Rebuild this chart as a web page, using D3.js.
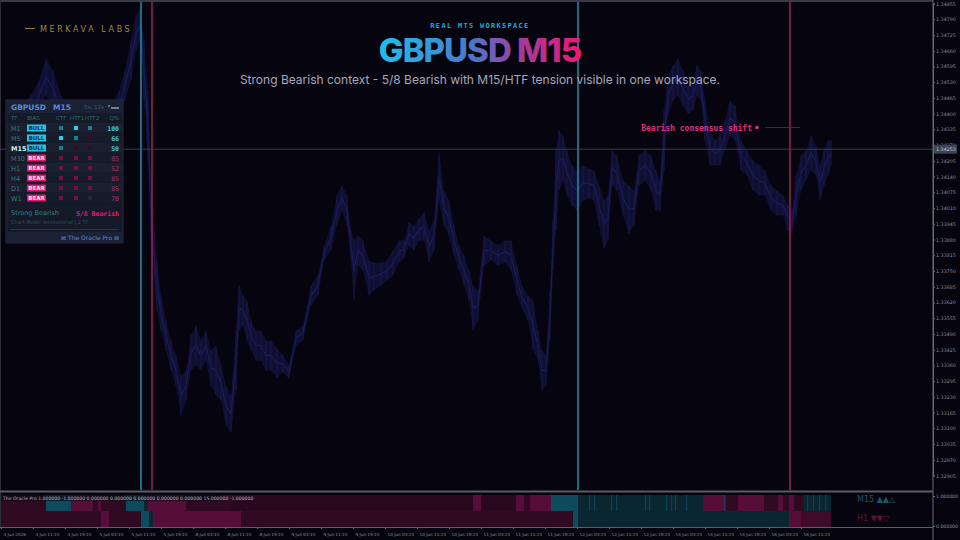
<!DOCTYPE html>
<html>
<head>
<meta charset="utf-8">
<script src="https://cdn.jsdelivr.net/npm/d3@7"></script>
<style>
  html, body { margin: 0; padding: 0; background: #06050f; }
  svg { display: block; }
</style>
</head>
<body>
<div id="wrapper"></div>
<script>
// price readings: bar index (M15 bars from left edge), high, low
const barIdx = [8,20,30,38,45,52,60,70,80,90,100,110,118,124,130,135,139,143,147,150,153,156,160,165,170,175,180,185,190,195,200,205,210,215,220,225,230,235,238,242,246,250,255,260,265,270,276,282,288,295,302,310,317,323,330,336,341,346,350,353,357,362,368,373,380,386,392,398,403,408,413,418,423,428,433,438,443,448,453,458,463,468,472,477,483,490,497,504,510,516,521,527,532,537,541,545,549,552,555,558,562,566,571,576,582,588,593,598,603,607,611,616,622,628,633,638,644,650,655,659,663,667,672,677,682,687,692,696,700,704,709,714,719,724,729,734,740,746,752,758,764,770,776,782,787,791,795,800,805,810,815,819,823,827,830]
const highs = [1.34371,1.34413,1.34475,1.34537,1.34628,1.34578,1.34475,1.34413,1.34371,1.34330,1.34371,1.34433,1.34495,1.34578,1.34702,1.34805,1.34826,1.34702,1.34495,1.34124,1.33917,1.33793,1.33649,1.33545,1.33463,1.33401,1.33318,1.33339,1.33484,1.33525,1.33463,1.33504,1.33422,1.33442,1.33360,1.33277,1.33236,1.33504,1.33690,1.33649,1.33628,1.33545,1.33504,1.33504,1.33463,1.33463,1.33430,1.33401,1.33360,1.33504,1.33525,1.33690,1.33731,1.33855,1.33938,1.34062,1.34103,1.34062,1.33917,1.33876,1.33897,1.33876,1.33793,1.33785,1.33785,1.33793,1.33835,1.33876,1.33876,1.33950,1.33938,1.33967,1.33992,1.33917,1.33958,1.34239,1.34082,1.34041,1.33938,1.33855,1.33814,1.33752,1.33690,1.33669,1.33897,1.33876,1.33855,1.33876,1.33876,1.33773,1.33690,1.33649,1.33628,1.33504,1.33422,1.33401,1.33669,1.33958,1.34248,1.34330,1.34310,1.34248,1.34186,1.34165,1.34186,1.34173,1.34165,1.34103,1.34041,1.34062,1.34248,1.34227,1.34124,1.34103,1.34082,1.34227,1.34248,1.34227,1.34165,1.34124,1.34413,1.34557,1.34599,1.34628,1.34578,1.34516,1.34537,1.34599,1.34578,1.34454,1.34330,1.34289,1.34310,1.34371,1.34454,1.34433,1.34289,1.34248,1.34206,1.34186,1.34165,1.34103,1.34082,1.34062,1.34020,1.34000,1.34144,1.34227,1.34248,1.34310,1.34268,1.34186,1.34248,1.34289,1.34289]
const lows = [1.34206,1.34248,1.34330,1.34413,1.34475,1.34433,1.34330,1.34248,1.34206,1.34165,1.34206,1.34289,1.34371,1.34454,1.34537,1.34661,1.34702,1.34454,1.34206,1.33876,1.33711,1.33587,1.33504,1.33422,1.33339,1.33277,1.33153,1.33215,1.33339,1.33360,1.33339,1.33380,1.33277,1.33236,1.33215,1.33112,1.33083,1.33256,1.33504,1.33525,1.33463,1.33422,1.33380,1.33380,1.33339,1.33339,1.33310,1.33331,1.33306,1.33442,1.33463,1.33607,1.33649,1.33793,1.33835,1.33938,1.34000,1.33938,1.33793,1.33628,1.33773,1.33752,1.33649,1.33669,1.33690,1.33711,1.33731,1.33785,1.33802,1.33855,1.33835,1.33876,1.33876,1.33785,1.33835,1.34041,1.33938,1.33897,1.33814,1.33752,1.33690,1.33628,1.33504,1.33545,1.33773,1.33793,1.33773,1.33785,1.33752,1.33649,1.33595,1.33545,1.33422,1.33380,1.33256,1.33277,1.33463,1.33752,1.33917,1.34082,1.34124,1.34062,1.34020,1.34000,1.34041,1.34049,1.34041,1.33938,1.33843,1.33876,1.34103,1.34082,1.33979,1.33905,1.33938,1.34103,1.34124,1.34082,1.34000,1.34000,1.34165,1.34392,1.34454,1.34475,1.34433,1.34400,1.34413,1.34475,1.34454,1.34289,1.34186,1.34186,1.34186,1.34248,1.34310,1.34289,1.34165,1.34144,1.34082,1.34062,1.34062,1.34000,1.33979,1.33979,1.33917,1.33905,1.33979,1.34082,1.34124,1.34165,1.34144,1.34041,1.34103,1.34144,1.34186]

const priceTicks = [1.34855,1.34790,1.34725,1.34660,1.34595,1.34530,1.34465,1.34400,1.34335,1.34270,1.34205,1.34140,1.34075,1.34010,1.33945,1.33880,1.33815,1.33750,1.33685,1.33620,1.33555,1.33490,1.33425,1.33360,1.33295,1.33230,1.33165,1.33100,1.33035,1.32970,1.32905]
const lastPrice = 1.34253

const timeTicks = [0,32,64,96,128,160,192,224,256,288,320,352,384,416,448,480,512,544,576,608,640,672,704,736,768,800]
const timeLabels = ["4 Jun 2026","4 Jun 11:15","4 Jun 19:15","5 Jun 03:15","5 Jun 11:15","5 Jun 19:15","8 Jun 03:15","8 Jun 11:15","8 Jun 19:15","9 Jun 03:15","9 Jun 11:15","9 Jun 19:15","10 Jun 03:15","10 Jun 11:15","10 Jun 19:15","11 Jun 03:15","11 Jun 11:15","11 Jun 19:15","12 Jun 03:15","12 Jun 11:15","12 Jun 19:15","15 Jun 03:15","15 Jun 11:15","15 Jun 19:15","16 Jun 03:15","16 Jun 11:15"]

// bias flip markers (bar index, side)
const flipBars = [140,151,577,789]
const flipSides = ["bull","bear","bull","bear"]

// Oracle sub-window states: [startBar, endBar, state]
const ctfStates = [[0,45,"bearDim"],[45,70,"bull"],[70,92,"bear"],[92,97,"bearDim"],[97,100,"bear"],[100,125,"bearDim"],[125,143,"bull"],[143,147,"bullDim"],[147,185,"bear"],[185,230,"bearDim"],[230,472,"bearDark"],[472,480,"bear"],[480,515,"bearDark"],[515,523,"bear"],[523,529,"bearDim"],[529,550,"bear"],[550,577,"bull"],[577,830,"bullDim"],[702,725,"bear"],[725,737,"bearDim"],[737,763,"bear"],[763,777,"bearDim"],[777,782,"bear"],[782,788,"bearDim"],[788,793,"bear"],[793,802,"bearDim"]]
const ctfStripes = [588,593,610,615,644,648,665,670,674,685,723,806,812,818,824]
const htfStates = [[0,100,"bearDim"],[100,108,"bear"],[108,140,"bearDim"],[140,148,"bull"],[148,152,"bullDim"],[152,240,"bear"],[240,572,"bearDim"],[572,577,"bull"],[577,788,"bullDim"],[788,800,"bear"],[800,830,"bearMid"]]

// dashboard table
const tfRows = ["M1","M5","M15","M30","H1","H4","D1","W1"]
const tfBias = ["BULL","BULL","BULL","BEAR","BEAR","BEAR","BEAR","BEAR"]
const tfQuality = [100,66,50,85,52,85,85,70]
const tfCtf = ["bull","hot","bull","bear","bear","bear","bear","bear"]
const tfHtf1 = ["hot","bull","weak","bear","bear","bear","bear","bear"]
const tfHtf2 = ["bull","weak","weak","bear","bear","bear","bear","none"]

const W = 960, H = 540
const plotRight = 933, mainBottom = 490, subTop = 493, subBottom = 527

const stateColor = {bear:"#560d37", bearDim:"#300a23", bearDark:"#2a081f", bearMid:"#3e0b2b", bull:"#0d4a5e", bullDim:"#0a2631"}
const squareColor = {bull:"#167f92", hot:"#22d2ea", weak:"#3c0a1f", bear:"#7a0f3c", none:"#262634"}

const svg = d3.select("#wrapper").append("svg").attr("width", W).attr("height", H)
svg.append("rect").attr("width", W).attr("height", H).attr("fill", "#06050f")

const x = d3.scaleLinear().domain([0, 932]).range([1, plotRight])
const y = d3.scaleLinear().domain([1.32905, 1.34855]).range([475.5, 3.5])

// frame
svg.append("line").attr("x1",0).attr("x2",plotRight).attr("y1",1).attr("y2",1).attr("stroke","#3a3a44").attr("stroke-width",2)
svg.append("line").attr("x1",0.5).attr("x2",0.5).attr("y1",0).attr("y2",subBottom).attr("stroke","#2e2e38")

// price cloud (faded candles)
const main = svg.append("g")
const pts = barIdx.map((b,i) => ({b:b, h:highs[i], l:lows[i]}))
main.append("path").datum(pts)
  .attr("d", d3.area().x(d => x(d.b)).y0(d => y(d.l)).y1(d => y(d.h)))
  .attr("fill", "#121238").attr("opacity", 0.85)
main.append("path").datum(pts)
  .attr("d", d3.line().x(d => x(d.b)).y(d => (y(d.h) + y(d.l)) / 2))
  .attr("fill","none").attr("stroke","#1d1d5c").attr("stroke-width",1.2)
main.selectAll("line.wick").data(pts).enter().append("line")
  .attr("x1", d => x(d.b)).attr("x2", d => x(d.b))
  .attr("y1", d => y(d.h)).attr("y2", d => y(d.l))
  .attr("stroke","#18184a").attr("stroke-width",1)

// current price line
svg.append("line").attr("x1",0).attr("x2",plotRight).attr("y1",y(lastPrice)).attr("y2",y(lastPrice))
  .attr("stroke","#4a4a58").attr("stroke-width",0.8)

// flip markers
svg.selectAll("line.flip").data(flipBars).enter().append("line")
  .attr("x1", d => x(d)).attr("x2", d => x(d)).attr("y1", 2).attr("y2", mainBottom)
  .attr("stroke", (d,i) => flipSides[i] == "bull" ? "#1a8aa6" : "#9a1e4c")
  .attr("stroke-width", 1.6)

// price axis
const yAxis = svg.append("g").attr("transform", `translate(${plotRight},0)`)
  .call(d3.axisRight(y).tickValues(priceTicks).tickFormat(d3.format(".5f")).tickSize(2))
yAxis.select(".domain").attr("stroke","#6a6a74")
yAxis.selectAll(".tick line").attr("stroke","#6a6a74")
yAxis.selectAll(".tick text").attr("fill","#8a8a96").attr("font-size","4.8px").attr("font-family","DejaVu Sans").attr("x",3)
svg.append("line").attr("x1",plotRight).attr("x2",plotRight).attr("y1",0).attr("y2",H).attr("stroke","#6a6a74")
const lp = svg.append("g").attr("transform", `translate(${plotRight+1},${y(lastPrice)})`)
lp.append("rect").attr("x",0).attr("y",-4.5).attr("width",23).attr("height",9).attr("fill","#3c4454")
lp.append("text").attr("x",2).attr("y",2).text(d3.format(".5f")(lastPrice))
  .attr("fill","#c8ccd6").attr("font-size","4.8px").attr("font-family","DejaVu Sans")

// sub-window
svg.append("line").attr("x1",0).attr("x2",plotRight).attr("y1",491.5).attr("y2",491.5).attr("stroke","#5c5c66").attr("stroke-width",2)
const sy = d3.scaleLinear().domain([0,1]).range([526, 496])
const sub = svg.append("g")
sub.selectAll("rect.ctf").data(ctfStates).enter().append("rect")
  .attr("x", d => x(d[0])).attr("width", d => x(d[1]) - x(d[0]))
  .attr("y", sy(1) - 1).attr("height", sy(0.5) - sy(1) + 1)
  .attr("fill", d => stateColor[d[2]])
sub.selectAll("rect.stripe").data(ctfStripes).enter().append("rect")
  .attr("x", d => x(d)).attr("width", 1.2)
  .attr("y", sy(1) - 1).attr("height", sy(0.5) - sy(1) + 1)
  .attr("fill", "#0f4152")
sub.selectAll("rect.htf").data(htfStates).enter().append("rect")
  .attr("x", d => x(d[0])).attr("width", d => x(d[1]) - x(d[0]))
  .attr("y", sy(0.5)).attr("height", sy(0) - sy(0.5) + 1)
  .attr("fill", d => stateColor[d[2]])
sub.append("rect").attr("x",2).attr("y",494).attr("width",220).attr("height",7).attr("fill","#0a0912").attr("opacity",0.7)
sub.append("text").attr("x",3).attr("y",499.5)
  .text("The Oracle Pro 1.000000 -1.000000 0.000000 0.000000 0.000000 0.000000 0.000000 15.000000 -1.000000")
  .attr("fill","#b8b8c4").attr("font-size","4.6px").attr("font-family","DejaVu Sans")
sub.append("text").attr("x",857).attr("y",502).text("M15 ▲▲△")
  .attr("fill","#1d5664").attr("font-size","8px").attr("font-family","DejaVu Sans")
sub.append("text").attr("x",857).attr("y",521).text("H1 ▼▼▽")
  .attr("fill","#5a1532").attr("font-size","8px").attr("font-family","DejaVu Sans")
const subAxis = svg.append("g").attr("transform", `translate(${plotRight},0)`)
  .call(d3.axisRight(sy).tickValues([1,0]).tickFormat(d3.format(".6f")).tickSize(2))
subAxis.select(".domain").remove()
subAxis.selectAll(".tick line").attr("stroke","#6a6a74")
subAxis.selectAll(".tick text").attr("fill","#8a8a96").attr("font-size","4.6px").attr("font-family","DejaVu Sans").attr("x",3)
svg.append("line").attr("x1",0).attr("x2",plotRight).attr("y1",subBottom+0.5).attr("y2",subBottom+0.5).attr("stroke","#5c5c66")

// time axis
const xAxis = svg.append("g").attr("transform", `translate(0,${subBottom})`)
  .call(d3.axisBottom(x).tickValues(timeTicks).tickFormat((d,i) => timeLabels[i]).tickSize(2))
xAxis.select(".domain").remove()
xAxis.selectAll(".tick line").attr("stroke","#6a6a74")
xAxis.selectAll(".tick text").attr("fill","#8a8a96").attr("font-size","4.2px").attr("font-family","DejaVu Sans")
  .attr("text-anchor","start").attr("x",2).attr("dy","0.9em")

// headline
const defs = svg.append("defs")
const grad = defs.append("linearGradient").attr("id","tg").attr("gradientUnits","userSpaceOnUse")
  .attr("x1",380).attr("x2",580).attr("y1",0).attr("y2",0)
grad.append("stop").attr("offset","0%").attr("stop-color","#1cc0ea")
grad.append("stop").attr("offset","45%").attr("stop-color","#4a78c8")
grad.append("stop").attr("offset","70%").attr("stop-color","#a03c9c")
grad.append("stop").attr("offset","100%").attr("stop-color","#ec1a74")
svg.append("text").attr("x",480).attr("y",28).attr("text-anchor","middle").text("REAL MT5 WORKSPACE")
  .attr("fill","#1fa6d8").attr("font-size","7px").attr("font-weight","bold")
  .attr("font-family","DejaVu Sans Mono").attr("letter-spacing","1.3px")
svg.append("text").attr("x",480).attr("y",62).attr("text-anchor","middle").text("GBPUSD M15")
  .attr("fill","url(#tg)").attr("font-size","33px").attr("font-weight","800")
  .attr("font-family","Inter").attr("letter-spacing","-1px")
svg.append("text").attr("x",480).attr("y",84).attr("text-anchor","middle")
  .text("Strong Bearish context - 5/8 Bearish with M15/HTF tension visible in one workspace.")
  .attr("fill","#a6a6bc").attr("font-size","12px").attr("font-family","Inter")

// brand
svg.append("line").attr("x1",25).attr("x2",35).attr("y1",28.5).attr("y2",28.5).attr("stroke","#9a7c3c")
svg.append("text").attr("x",40).attr("y",31.5).text("MERKAVA LABS")
  .attr("fill","#a08443").attr("font-size","8px").attr("font-family","DejaVu Sans").attr("letter-spacing","2.6px")

// annotation
const ann = svg.append("g")
ann.append("text").attr("x",752).attr("y",130.5).attr("text-anchor","end").text("Bearish consensus shift")
  .attr("fill","#e0307c").attr("font-size","8px").attr("font-weight","bold").attr("font-family","DejaVu Sans Mono")
ann.append("circle").attr("cx",757).attr("cy",127.5).attr("r",1.8).attr("fill","#e0307c")
ann.append("line").attr("x1",765).attr("x2",800).attr("y1",127.5).attr("y2",127.5).attr("stroke","#7a2048").attr("stroke-width",0.8)

// dashboard panel
const panel = svg.append("g").attr("transform","translate(6,100)")
panel.append("rect").attr("width",117).attr("height",143).attr("fill","#151a29").attr("stroke","#262c3c")
panel.append("rect").attr("width",117).attr("height",13).attr("fill","#1b2235")
panel.append("text").attr("x",5).attr("y",10).text("GBPUSD").attr("fill","#5b88d6").attr("font-size","7.5px").attr("font-weight","bold").attr("font-family","DejaVu Sans")
panel.append("text").attr("x",47).attr("y",10).text("M15").attr("fill","#5b88d6").attr("font-size","7.5px").attr("font-weight","bold").attr("font-family","DejaVu Sans")
panel.append("text").attr("x",78).attr("y",9).text("5s: 12s").attr("fill","#465068").attr("font-size","5.5px").attr("font-family","DejaVu Sans")
panel.append("line").attr("x1",105).attr("x2",113).attr("y1",8).attr("y2",8).attr("stroke","#d0d6e0")
panel.append("circle").attr("cx",103).attr("cy",6).attr("r",0.8).attr("fill","#d0d6e0")

const cols = [["TF",5,"start"],["BIAS",21,"start"],["CTF",50,"start"],["HTF1",64,"start"],["HTF2",79,"start"],["Q%",113,"end"]]
panel.selectAll("text.col").data(cols).enter().append("text")
  .attr("x", d => d[1]).attr("y",20).attr("text-anchor", d => d[2]).text(d => d[0])
  .attr("fill","#2f6c74").attr("font-size","5.5px").attr("font-family","DejaVu Sans")

const rowY = d3.scaleBand().domain(tfRows).range([23,103])
const rows = panel.selectAll("g.row").data(tfRows).enter().append("g")
  .attr("transform", d => `translate(0,${rowY(d)})`)
rows.append("rect").attr("x",1).attr("width",115).attr("height",rowY.bandwidth()-0.6)
  .attr("fill", (d,i) => i % 2 ? "#171c2b" : "#1a2030")
rows.append("text").attr("x",5).attr("y",7.5).text(d => d)
  .attr("fill", (d,i) => i == 2 ? "#c4f4f4" : "#3f7078").attr("font-weight", (d,i) => i == 2 ? "bold" : "normal")
  .attr("font-size","6.5px").attr("font-family","DejaVu Sans")
rows.append("rect").attr("x",21).attr("y",1.5).attr("width",19).attr("height",7)
  .attr("fill", (d,i) => tfBias[i] == "BULL" ? "#1fc6df" : "#e0186c")
rows.append("text").attr("x",30.5).attr("y",7.2).attr("text-anchor","middle").text((d,i) => tfBias[i])
  .attr("fill", (d,i) => tfBias[i] == "BULL" ? "#0a2a38" : "#ffe0ee")
  .attr("font-size","5.5px").attr("font-weight","bold").attr("font-family","DejaVu Sans")
const sqCols = [[tfCtf,53],[tfHtf1,68],[tfHtf2,82]]
sqCols.forEach(c => {
  rows.append("rect").attr("x",c[1]).attr("y",3).attr("width",4).attr("height",4)
    .attr("fill", (d,i) => squareColor[c[0][i]])
})
rows.append("text").attr("x",113).attr("y",7.5).attr("text-anchor","end").text((d,i) => tfQuality[i])
  .attr("fill", (d,i) => tfBias[i] == "BULL" ? "#46c4d6" : "#a8306a")
  .attr("font-weight", (d,i) => tfBias[i] == "BULL" ? "bold" : "normal")
  .attr("font-size","6.5px").attr("font-family","DejaVu Sans Mono")

panel.append("text").attr("x",5).attr("y",115).text("Strong Bearish").attr("fill","#2a7f84").attr("font-size","6.5px").attr("font-family","DejaVu Sans")
panel.append("text").attr("x",113).attr("y",115.5).attr("text-anchor","end").text("5/8 Bearish").attr("fill","#e01a70").attr("font-size","6.5px").attr("font-weight","bold").attr("font-family","DejaVu Sans Mono")
panel.append("text").attr("x",5).attr("y",124).text("Chart Mode: Institutional | 2 TF").attr("fill","#24545a").attr("font-size","5px").attr("font-family","DejaVu Sans")
panel.append("line").attr("x1",4).attr("x2",113).attr("y1",129.5).attr("y2",129.5).attr("stroke","#2a3142")
panel.append("rect").attr("y",132).attr("width",117).attr("height",11).attr("fill","#1b2235")
panel.append("text").attr("x",113).attr("y",140).attr("text-anchor","end").text("⊠ The Oracle Pro ⊠")
  .attr("fill","#5b88d6").attr("font-size","6px").attr("font-family","DejaVu Sans")
</script>
</body>
</html>
